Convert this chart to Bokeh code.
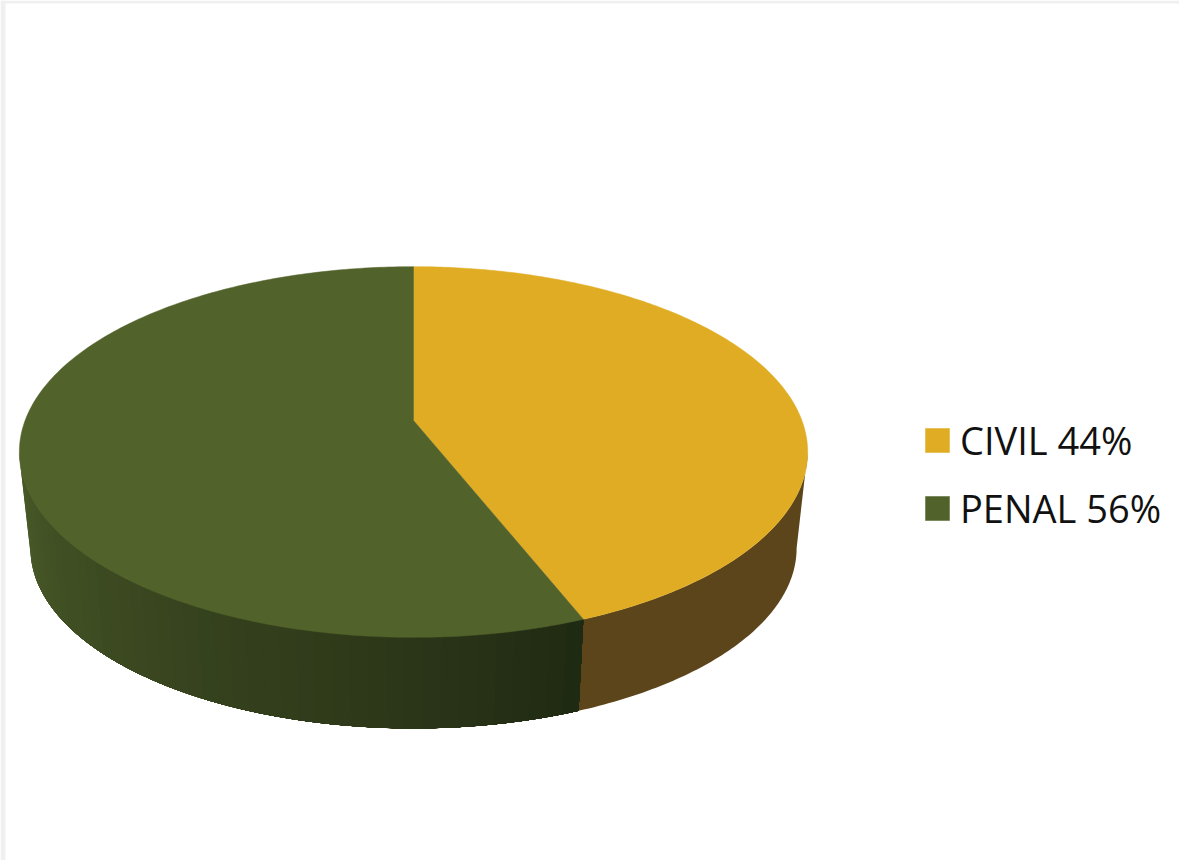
import numpy as np
from bokeh.embed import file_html
from bokeh.models import Legend, LegendItem, Range1d
from bokeh.plotting import figure
from bokeh.resources import INLINE

# Data
categories = ["CIVIL 44%", "PENAL 56%"]
shares = [44, 56]

# Styles
top_colors = ["#DFAC23", "#52622B"]
side_civil_color = "#5C451B"
side_penal_stops = [(158.4, "#1E2912"), (180.0, "#2B3518"), (215.0, "#38451F"), (260.2, "#4A5B29")]
frame_color = "#F0F0F0"

# Projection of the pie's disc on to the page (page pixels)
CX, CY = 413.0, 420.0
A, B, K = 388.4, 180.0, 0.17
SHRINK, VANISH_Y = 0.972, 3888.0
SIDE_RIGHT, SIDE_LEFT = 99.8, 260.2


def project(deg):
    t = np.radians(np.asarray(deg, dtype=float))
    X, Y = np.sin(t), -np.cos(t)
    d = 1 - K * Y
    return CX + A * X / d, CY + B * Y / d


def lower(x, y):
    return CX + SHRINK * (x - CX), VANISH_Y + SHRINK * (y - VANISH_Y)


def hex_rgb(c):
    return np.array([int(c[i:i + 2], 16) for i in (1, 3, 5)], dtype=float)


p = figure(width=1179, height=860, output_backend="svg", toolbar_location=None,
           x_range=Range1d(0, 1179), y_range=Range1d(860, 0),
           min_border=0, outline_line_color=None, background_fill_color="white")
p.xaxis.visible = False
p.yaxis.visible = False
p.grid.visible = False

# Thin grey edge of the screenshot
p.quad(left=0, right=5, top=0, bottom=860, fill_color=frame_color, line_color=None)
p.quad(left=0, right=1179, top=0, bottom=3, fill_color=frame_color, line_color=None)

cuts = np.cumsum([0] + shares) / sum(shares) * 360.0
boundary = cuts[1]

# Civil side wall (flat)
th = np.linspace(SIDE_RIGHT, boundary, 80)
x1, y1 = project(th)
x2, y2 = lower(x1, y1)
p.patch(np.r_[x1, x2[::-1]], np.r_[y1, y2[::-1]], fill_color=side_civil_color, line_color=None)

# Penal side wall: nested bands painted from the far end towards the dark edge
edges = np.linspace(SIDE_LEFT, boundary, 46)
stop_a = [s[0] for s in side_penal_stops]
stop_c = np.array([hex_rgb(s[1]) for s in side_penal_stops])
for b in edges[:-1]:
    th = np.linspace(boundary, b, 90)
    x1, y1 = project(th)
    x2, y2 = lower(x1, y1)
    rgb = [int(round(np.interp(b, stop_a, stop_c[:, i]))) for i in range(3)]
    col = "#%02X%02X%02X" % tuple(rgb)
    p.patch(np.r_[x1, x2[::-1]], np.r_[y1, y2[::-1]], fill_color=col, line_color=None)

# Top face
renderers = []
for i, col in enumerate(top_colors):
    th = np.linspace(cuts[i], cuts[i + 1], 240)
    x, y = project(th)
    r = p.patch(np.r_[CX, x], np.r_[CY, y], fill_color=col, line_color=col, line_width=0.5)
    renderers.append(r)

legend = Legend(
    items=[LegendItem(label=c, renderers=[r]) for c, r in zip(categories, renderers)],
    location=(922, 326), orientation="vertical",
    glyph_width=30, glyph_height=30, label_standoff=8, spacing=16, padding=0, margin=0,
    label_text_font="Open Sans", label_text_font_size="38px", label_text_color="#111111",
    label_height=30, border_line_color=None, background_fill_alpha=0,
)
p.add_layout(legend, "center")

open("out.html", "w").write(file_html(p, INLINE))
